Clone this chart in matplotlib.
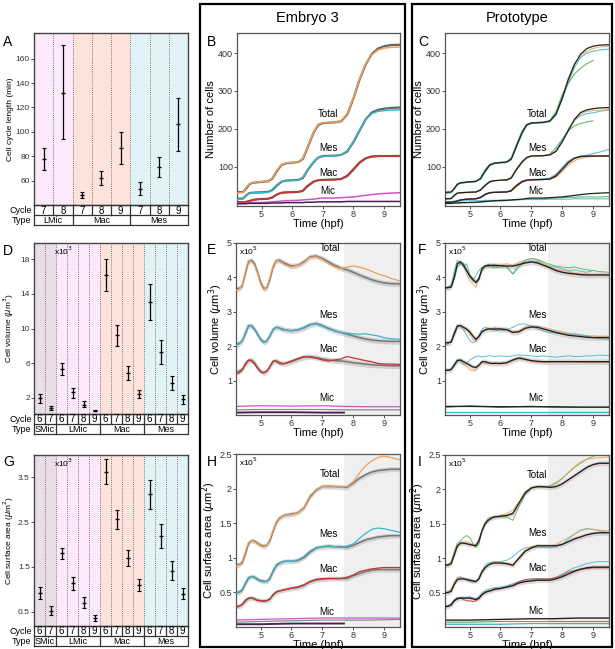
import numpy as np
import matplotlib
matplotlib.use("Agg")
import matplotlib.pyplot as plt
from matplotlib.patches import Rectangle
from matplotlib.ticker import FormatStrFormatter

plt.rcParams["font.family"] = ["Liberation Sans", "DejaVu Sans"]

W, H = 615, 649
nan = np.nan

# ---- left column: per-cycle statistics ----
CYCLE_A = [7, 8, 7, 8, 9, 7, 8, 9]
TYPE_A = ["LMic", "LMic", "Mac", "Mac", "Mac", "Mes", "Mes", "Mes"]
MEAN_A = [78, 132, 48, 62, 87, 53, 71, 106]
LOW_A = [69, 94, 46, 56, 74, 48, 63, 84]
HIGH_A = [87, 171, 51, 68, 100, 59, 79, 128]

CYCLE_DG = [6, 7, 6, 7, 8, 9, 6, 7, 8, 9, 6, 7, 8, 9]
TYPE_DG = ["SMic"] * 2 + ["LMic"] * 4 + ["Mac"] * 4 + ["Mes"] * 4
MEAN_D = [1.9, 0.8, 5.3, 2.6, 1.2, 0.5, 16.2, 9.2, 4.8, 2.4, 13.1, 7.3, 3.7, 1.8]
LOW_D = [1.4, 0.6, 4.6, 2.0, 0.9, 0.4, 14.3, 8.0, 4.0, 1.9, 11.0, 5.9, 2.9, 1.3]
HIGH_D = [2.4, 1.0, 6.0, 3.1, 1.6, 0.6, 18.1, 10.4, 5.7, 2.9, 15.2, 8.7, 4.5, 2.3]
MEAN_G = [0.92, 0.52, 1.80, 1.13, 0.70, 0.36, 3.63, 2.57, 1.70, 1.10, 3.13, 2.20, 1.41, 0.90]
LOW_G = [0.78, 0.42, 1.68, 0.98, 0.58, 0.30, 3.35, 2.35, 1.53, 0.97, 2.80, 1.93, 1.20, 0.78]
HIGH_G = [1.05, 0.62, 1.93, 1.28, 0.82, 0.42, 3.90, 2.78, 1.87, 1.23, 3.45, 2.46, 1.64, 1.03]

TYPE_COLORS = {"SMic": "#e9dde8", "LMic": "#fce9fb", "Mac": "#fde3dc", "Mes": "#e2f3f8"}

# ---- cell numbers (B, C) ----
T_COUNT = [4.2, 4.4, 4.5, 4.6, 4.7, 4.9, 5.2, 5.35, 5.5, 5.65, 5.8, 6.2, 6.35, 6.5,
           6.7, 6.85, 7.0, 7.4, 7.6, 7.8, 8.0, 8.2, 8.4, 8.6, 8.8, 9.0, 9.2, 9.5]
B_TOTAL_MEAN = [32, 33, 42, 53, 57, 59, 61, 68, 88, 104, 109, 112, 120, 150, 190, 210,
                215, 217, 220, 238, 280, 330, 370, 397, 412, 418, 421, 422]
B_TOTAL = [30, 32, 45, 54, 57, 60, 61, 70, 90, 105, 110, 112, 122, 152, 192, 212,
           216, 217, 221, 240, 282, 332, 372, 395, 408, 413, 415, 416]
B_MES_MEAN = [15, 16, 24, 30, 31, 32, 33, 38, 50, 60, 63, 65, 70, 90, 112, 124,
              128, 129, 131, 140, 165, 195, 225, 243, 250, 253, 255, 256]
B_MES = [13, 15, 25, 29, 31, 31, 32, 40, 52, 61, 63, 64, 72, 92, 113, 124,
         127, 129, 131, 142, 167, 196, 224, 240, 246, 248, 249, 250]
B_MAC_MEAN = [6, 6, 7, 9, 12, 14, 15, 18, 26, 31, 32, 33, 36, 48, 60, 64,
              65, 66, 67, 75, 92, 110, 122, 127, 128, 128, 128, 128]
B_MAC = [5, 6, 7, 9, 11, 14, 15, 19, 27, 31, 32, 33, 37, 50, 61, 64,
         65, 66, 68, 77, 94, 112, 122, 126, 127, 128, 128, 129]
B_MIC = [3, 3, 4, 4, 5, 5, 6, 7, 8, 9, 10, 11, 12, 13, 14, 16,
         17, 17, 18, 19, 20, 22, 24, 26, 28, 29, 30, 31]
B_MIC_SMALL = [2, 2, 2, 3, 3, 3, 3, 4, 4, 4, 5, 5, 5, 6, 6, 7,
               7, 7, 7, 8, 8, 8, 8, 8, 8, 8, 8, 8]

C_TOTAL_GREEN = [30, 31, 40, 52, 56, 58, 60, 70, 92, 106, 110, 113, 124, 155, 194, 212,
                 216, 218, 222, 245, 290, 320, 345, 360, 372, 380, nan, nan]
C_TOTAL_CYAN = [28, 32, 44, 55, 58, 60, 62, 66, 85, 102, 108, 111, 118, 147, 186, 208,
                214, 216, 219, 236, 276, 322, 362, 388, 400, 405, 408, 410]
C_TOTAL_ORANGE = [33, 34, 41, 52, 57, 59, 61, 69, 90, 105, 110, 112, 121, 152, 192, 211,
                  216, 217, 221, 242, 285, 335, 372, 393, 405, 412, 416, 418]
C_MES_GREEN = [14, 15, 22, 29, 31, 32, 33, 39, 52, 61, 63, 65, 72, 93, 114, 125,
               128, 129, 133, 150, 172, 195, 208, 214, 218, 221, nan, nan]
C_MES_CYAN = [13, 15, 25, 30, 31, 32, 33, 37, 49, 59, 63, 64, 69, 89, 111, 123,
              127, 129, 131, 142, 170, 200, 222, 235, 240, 242, 246, 250]
C_MAC_CYAN = [6, 6, 8, 11, 13, 14, 15, 20, 28, 32, 33, 34, 38, 50, 62, 65,
              66, 68, 70, 80, 98, 115, 124, 128, 130, 134, 138, 145]
C_MAC_ORANGE = [5, 6, 7, 9, 12, 14, 15, 17, 25, 30, 32, 33, 35, 46, 58, 63,
                65, 66, 66, 72, 86, 104, 116, 122, 125, 127, 128, 128]
C_MIC_GREEN = [2, 2, 3, 3, 4, 5, 5, 6, 7, 8, 9, 10, 11, 12, 13, 14,
               15, 15, 16, 17, 18, 19, 19, 20, 20, 20, 20, 21]
C_MIC_CYAN = [8, 8, 9, 9, 9, 10, 10, 10, 11, 11, 11, 12, 12, 12, 13, 13,
              13, 13, 14, 14, 14, 14, 15, 15, 15, 15, 15, 15]

# ---- volume / surface (E, F, H, I), x10^5 ----
T_SHAPE = [4.2, 4.3, 4.4, 4.5, 4.6, 4.7, 4.8, 4.9, 5.0, 5.1, 5.2, 5.3, 5.4, 5.5, 5.6,
           5.7, 5.8, 6.0, 6.2, 6.4, 6.6, 6.8, 7.0, 7.2, 7.4, 7.6, 7.8, 8.0, 8.2, 8.4,
           8.6, 8.8, 9.0, 9.2, 9.5]
T_MIC = [4.2, 5.0, 6.0, 7.0, 7.7, 8.5, 9.5]

E_TOTAL_MEAN = [3.66, 3.68, 3.75, 4.1, 4.45, 4.5, 4.4, 4.15, 3.85, 3.67, 3.7, 3.95, 4.3, 4.48,
                4.5, 4.45, 4.4, 4.33, 4.35, 4.45, 4.6, 4.62, 4.55, 4.45, 4.35, 4.27, 4.22,
                4.15, 4.07, 4.0, 3.93, 3.88, 3.84, 3.82, 3.81]
E_TOTAL = [3.62, 3.66, 3.78, 4.15, 4.5, 4.47, 4.35, 4.1, 3.8, 3.64, 3.72, 4.0, 4.33, 4.5,
           4.47, 4.42, 4.36, 4.3, 4.36, 4.48, 4.58, 4.6, 4.52, 4.4, 4.3, 4.25, 4.3,
           4.33, 4.3, 4.25, 4.18, 4.1, 4.05, 3.98, 3.9]
E_MES_MEAN = [2.05, 2.08, 2.15, 2.35, 2.58, 2.6, 2.5, 2.35, 2.2, 2.12, 2.15, 2.3, 2.48, 2.55,
              2.53, 2.5, 2.47, 2.45, 2.47, 2.53, 2.62, 2.66, 2.6, 2.52, 2.45, 2.4, 2.35,
              2.3, 2.25, 2.21, 2.18, 2.16, 2.15, 2.14, 2.14]
E_MES = [2.02, 2.06, 2.17, 2.4, 2.62, 2.58, 2.47, 2.32, 2.17, 2.1, 2.16, 2.33, 2.5, 2.55,
         2.52, 2.48, 2.46, 2.45, 2.48, 2.55, 2.64, 2.65, 2.58, 2.5, 2.44, 2.4, 2.38,
         2.36, 2.35, 2.36, 2.33, 2.3, 2.25, 2.22, 2.2]
E_MAC_MEAN = [1.25, 1.27, 1.33, 1.45, 1.58, 1.6, 1.52, 1.38, 1.27, 1.23, 1.27, 1.4, 1.55, 1.58,
              1.53, 1.5, 1.5, 1.55, 1.62, 1.68, 1.7, 1.67, 1.63, 1.6, 1.58, 1.57, 1.55,
              1.52, 1.5, 1.48, 1.46, 1.45, 1.44, 1.43, 1.43]
E_MAC = [1.2, 1.22, 1.3, 1.5, 1.6, 1.57, 1.48, 1.35, 1.25, 1.22, 1.28, 1.42, 1.57, 1.56,
         1.5, 1.48, 1.5, 1.57, 1.64, 1.7, 1.68, 1.65, 1.6, 1.57, 1.6, 1.63, 1.7,
         1.66, 1.62, 1.58, 1.55, 1.5, 1.48, 1.48, 1.47]
E_MIC = [0.25, 0.27, 0.26, 0.27, 0.25, 0.24, 0.24]
E_MIC_MEAN = [0.15, 0.16, 0.16, 0.16, 0.15, 0.15, 0.15]
E_MIC_SMALL = [0.07, 0.08, 0.08, 0.07, 0.07, nan, nan]

H_TOTAL_MEAN = [0.9, 0.9, 0.93, 1.05, 1.2, 1.25, 1.24, 1.21, 1.18, 1.17, 1.18, 1.25, 1.38, 1.5,
                1.57, 1.6, 1.62, 1.63, 1.65, 1.72, 1.88, 1.98, 2.03, 2.03, 2.03, 2.02, 2.02,
                2.08, 2.15, 2.2, 2.24, 2.26, 2.27, 2.28, 2.28]
H_TOTAL = [0.88, 0.9, 0.95, 1.08, 1.22, 1.25, 1.23, 1.2, 1.17, 1.16, 1.18, 1.27, 1.4, 1.52,
           1.58, 1.6, 1.62, 1.62, 1.65, 1.73, 1.9, 1.99, 2.03, 2.04, 2.03, 2.02, 2.03,
           2.1, 2.22, 2.33, 2.4, 2.45, 2.47, 2.45, 2.42]
H_MES_MEAN = [0.5, 0.5, 0.53, 0.62, 0.7, 0.73, 0.72, 0.69, 0.67, 0.66, 0.66, 0.7, 0.8, 0.88,
              0.92, 0.94, 0.95, 0.95, 0.96, 1.0, 1.08, 1.14, 1.16, 1.17, 1.16, 1.16, 1.15,
              1.18, 1.22, 1.26, 1.28, 1.3, 1.31, 1.32, 1.32]
H_MES = [0.5, 0.51, 0.55, 0.64, 0.72, 0.73, 0.71, 0.68, 0.66, 0.65, 0.66, 0.72, 0.82, 0.9,
         0.93, 0.94, 0.95, 0.95, 0.97, 1.02, 1.1, 1.15, 1.16, 1.16, 1.16, 1.15, 1.17,
         1.2, 1.28, 1.35, 1.41, 1.43, 1.42, 1.4, 1.37]
H_MAC_MEAN = [0.3, 0.3, 0.32, 0.37, 0.41, 0.42, 0.41, 0.39, 0.38, 0.38, 0.38, 0.4, 0.46, 0.5,
              0.52, 0.53, 0.54, 0.56, 0.57, 0.6, 0.65, 0.68, 0.69, 0.7, 0.7, 0.7, 0.7,
              0.74, 0.77, 0.8, 0.82, 0.83, 0.83, 0.83, 0.83]
H_MAC = [0.28, 0.3, 0.33, 0.39, 0.42, 0.42, 0.4, 0.38, 0.38, 0.37, 0.38, 0.41, 0.47, 0.51,
         0.52, 0.53, 0.54, 0.56, 0.58, 0.61, 0.66, 0.69, 0.7, 0.7, 0.7, 0.7, 0.72,
         0.75, 0.8, 0.82, 0.84, 0.85, 0.86, 0.86, 0.86]
H_MIC = [0.1, 0.11, 0.12, 0.13, 0.13, 0.13, 0.13]
H_MIC_MEAN = [0.07, 0.08, 0.09, 0.1, 0.1, 0.1, 0.11]
H_MIC_SMALL = [0.04, 0.04, 0.05, 0.05, 0.05, nan, nan]

F_TOTAL_MEAN = [3.7, 3.7, 3.72, 4.0, 4.4, 4.45, 4.35, 4.2, 4.05, 3.95, 3.85, 3.95, 4.25, 4.33,
                4.35, 4.35, 4.35, 4.34, 4.33, 4.33, 4.37, 4.42, 4.45, 4.42, 4.35, 4.28, 4.2,
                4.15, 4.12, 4.1, 4.08, 4.07, 4.07, 4.07, 4.07]
F_TOTAL_CYAN = [3.68, 3.7, 3.8, 4.2, 4.5, 4.4, 4.3, 4.4, 4.1, 3.9, 4.05, 4.2, 4.3, 4.3,
                4.38, 4.33, 4.3, 4.36, 4.3, 4.1, 4.4, 4.45, 4.48, 4.46, 4.4, 4.32, 4.3,
                4.25, 4.2, 4.22, 4.18, 4.15, 4.2, nan, nan]
F_TOTAL_ORANGE = [3.72, 3.7, 3.75, 4.05, 4.38, 4.48, 4.3, 4.1, 3.9, 3.82, 3.7, 3.98, 4.3, 4.35,
                  4.3, 4.35, 4.38, 4.35, 4.4, 4.35, 4.45, 4.5, 4.55, 4.5, 4.4, 4.3, 4.25,
                  4.2, 4.18, 4.12, 4.1, 4.1, 4.08, 4.1, 4.08]
F_TOTAL_GREEN = [3.7, 3.72, 3.74, 3.95, 4.3, 4.4, 4.42, 4.25, 4.0, 3.9, 3.88, 4.0, 4.2, 4.3,
                 4.32, 4.3, 4.28, 4.3, 4.32, 4.1, 4.3, 4.5, 4.55, 4.52, 4.45, 4.38, 4.33,
                 4.3, 4.28, 4.3, 4.25, 4.22, 4.2, 4.17, 4.15]
F_MES_MEAN = [2.1, 2.1, 2.12, 2.35, 2.58, 2.6, 2.55, 2.5, 2.42, 2.3, 2.2, 2.28, 2.42, 2.47,
              2.5, 2.5, 2.5, 2.5, 2.48, 2.4, 2.42, 2.52, 2.56, 2.55, 2.5, 2.45, 2.4,
              2.36, 2.32, 2.3, 2.28, 2.26, 2.25, 2.25, 2.25]
F_MES_ORANGE = [2.08, 2.1, 2.15, 2.45, 2.62, 2.55, 2.48, 2.45, 2.35, 2.2, 2.12, 2.3, 2.45, 2.5,
                2.52, 2.48, 2.55, 2.5, 2.5, 2.42, 2.45, 2.58, 2.6, 2.58, 2.55, 2.5, 2.45,
                2.42, 2.38, 2.35, 2.32, 2.3, 2.3, 2.28, 2.27]
F_MAC_MEAN = [1.3, 1.3, 1.32, 1.45, 1.58, 1.6, 1.55, 1.5, 1.45, 1.4, 1.38, 1.45, 1.55, 1.55,
              1.52, 1.5, 1.5, 1.5, 1.52, 1.6, 1.66, 1.62, 1.58, 1.56, 1.55, 1.55, 1.55,
              1.55, 1.55, 1.55, 1.55, 1.55, 1.55, 1.55, 1.55]
F_MAC_CYAN = [1.28, 1.3, 1.35, 1.5, 1.62, 1.55, 1.45, 1.5, 1.6, 1.65, 1.7, 1.72, 1.68, 1.7,
              1.72, 1.72, 1.7, 1.72, 1.7, 1.72, 1.75, 1.73, 1.72, 1.7, 1.72, 1.7, 1.68,
              1.7, 1.72, 1.7, 1.7, 1.72, 1.72, 1.74, 1.73]
F_MAC_ORANGE = [1.3, 1.32, 1.34, 1.42, 1.55, 1.58, 1.5, 1.4, 1.32, 1.28, 1.3, 1.45, 1.52, 1.5,
                1.48, 1.5, 1.52, 1.48, 1.5, 1.58, 1.62, 1.6, 1.55, 1.53, 1.52, 1.53, 1.55,
                1.56, 1.55, 1.54, 1.53, 1.52, 1.52, 1.53, 1.53]
F_MIC_MEAN = [0.25, 0.25, 0.24, 0.24, 0.24, 0.23, 0.23]
F_MIC_GREEN = [0.22, 0.27, 0.22, 0.26, 0.22, 0.22, 0.22]
F_MIC_SMALL = [0.1, 0.1, 0.1, 0.1, 0.1, 0.1, 0.1]

I_TOTAL_MEAN = [0.9, 0.9, 0.92, 1.05, 1.18, 1.22, 1.22, 1.21, 1.2, 1.19, 1.18, 1.25, 1.4, 1.5,
                1.55, 1.58, 1.6, 1.61, 1.62, 1.65, 1.8, 1.95, 2.02, 2.04, 2.04, 2.03, 2.04,
                2.08, 2.14, 2.2, 2.26, 2.32, 2.36, 2.38, 2.38]
I_TOTAL_GREEN = [0.9, 0.91, 0.95, 1.1, 1.22, 1.25, 1.3, 1.33, 1.3, 1.22, 1.16, 1.2, 1.42, 1.52,
                 1.58, 1.6, 1.6, 1.6, 1.6, 1.55, 1.75, 1.92, 2.02, 2.04, 2.03, 2.05, 2.1,
                 2.16, 2.24, 2.32, 2.38, 2.44, 2.48, 2.5, 2.52]
I_TOTAL_ORANGE = [0.88, 0.9, 0.93, 1.03, 1.15, 1.2, 1.22, 1.25, 1.22, 1.2, 1.2, 1.28, 1.4, 1.48,
                  1.55, 1.57, 1.6, 1.62, 1.65, 1.7, 1.82, 1.97, 2.03, 2.05, 2.04, 2.03, 2.08,
                  2.15, 2.25, 2.33, 2.4, 2.44, 2.45, 2.46, 2.47]
I_MES_MEAN = [0.5, 0.5, 0.52, 0.62, 0.69, 0.7, 0.7, 0.69, 0.68, 0.67, 0.66, 0.7, 0.8, 0.86,
              0.9, 0.92, 0.93, 0.93, 0.92, 0.9, 1.0, 1.1, 1.15, 1.18, 1.18, 1.18, 1.18,
              1.2, 1.24, 1.28, 1.31, 1.34, 1.36, 1.37, 1.37]
I_MES_ORANGE = [0.5, 0.51, 0.55, 0.66, 0.71, 0.72, 0.7, 0.7, 0.69, 0.68, 0.65, 0.72, 0.82, 0.88,
                0.9, 0.93, 0.95, 0.95, 0.93, 0.88, 1.02, 1.12, 1.17, 1.19, 1.18, 1.18, 1.2,
                1.25, 1.3, 1.35, 1.4, 1.42, 1.42, 1.41, 1.4]
I_MAC_MEAN = [0.3, 0.3, 0.32, 0.38, 0.41, 0.42, 0.42, 0.42, 0.42, 0.41, 0.4, 0.42, 0.47, 0.5,
              0.52, 0.53, 0.55, 0.56, 0.58, 0.6, 0.64, 0.66, 0.67, 0.68, 0.68, 0.68, 0.7,
              0.73, 0.77, 0.81, 0.84, 0.86, 0.87, 0.87, 0.87]
I_MAC_CYAN = [0.3, 0.31, 0.34, 0.4, 0.43, 0.43, 0.42, 0.43, 0.44, 0.42, 0.4, 0.45, 0.5, 0.53,
              0.55, 0.56, 0.57, 0.58, 0.6, 0.63, 0.66, 0.68, 0.69, 0.7, 0.7, 0.7, 0.72,
              0.77, 0.82, 0.86, 0.89, 0.92, 0.94, 0.95, 0.95]
I_MIC_MEAN = [0.1, 0.1, 0.11, 0.12, 0.12, 0.13, 0.13]
I_MIC_GREEN = [0.07, 0.07, 0.08, 0.08, 0.08, 0.08, 0.08]
I_MIC_SMALL = [0.04, 0.04, 0.04, 0.05, 0.05, 0.05, 0.05]

ORANGE = "#f0a05a"
CYAN = "#3db5d0"
RED = "#cc3328"
MAGENTA = "#cc55cc"
DARK = "#4a1d55"
GREEN = "#4caf50"
BLACK = "#222222"
TICK_FS = 6.5
LABEL_FS = 8
LEFT_X0 = 34


def add_px_axes(fig, x0, y0, x1, y1):
    return fig.add_axes([x0 / W, 1 - y1 / H, (x1 - x0) / W, (y1 - y0) / H])


def type_spans(types):
    spans = []
    start = 0
    for i in range(1, len(types) + 1):
        if i == len(types) or types[i] != types[start]:
            spans.append((types[start], start, i))
            start = i
    return spans


def style_spines(ax, color="#555555", lw=0.9, fs=TICK_FS):
    for s in ax.spines.values():
        s.set_color(color)
        s.set_linewidth(lw)
    ax.tick_params(labelsize=fs, length=2, width=0.6, pad=1, colors="#333333")


def stats_panel(fig, box, cycles, types, mean, low, high, ylim, yticks, ylabel, scale=None,
                label_x=14):
    x0, y0, x1, y1 = box
    ax = add_px_axes(fig, x0, y0, x1, y1)
    n = len(cycles)
    xs = np.arange(n) + 0.5
    for i, t in enumerate(types):
        ax.axvspan(i, i + 1, color=TYPE_COLORS[t], lw=0, zorder=0)
    for i in range(1, n):
        ax.axvline(i, ls=(0, (1, 1.5)), color="#555555", lw=0.6, zorder=1)
    mean = np.array(mean)
    yerr = [mean - np.array(low), np.array(high) - mean]
    ax.errorbar(xs, mean, yerr=yerr, fmt="_", ms=3, color="black", ecolor="black",
                elinewidth=0.9, capsize=1.5, capthick=0.8, zorder=3)
    ax.set_xlim(0, n)
    ax.set_ylim(*ylim)
    ax.set_xticks([])
    ax.set_yticks(yticks)
    ax.yaxis.set_major_formatter(FormatStrFormatter("%g"))
    ax.set_ylabel(ylabel, fontsize=6, labelpad=0)
    # pin the label's right edge at label_x px so it stays inside the figure
    ax.yaxis.set_label_coords((label_x - x0) / (x1 - x0), 0.5)
    style_spines(ax, "#444444", 1.0, fs=6)
    if scale:
        ax.text(0.13, 0.99, scale, transform=ax.transAxes, va="top", ha="left", fontsize=6)

    # Cycle / Type table
    tax = add_px_axes(fig, x0, y1, x1, y1 + 20)
    tax.set_xlim(0, n)
    tax.set_ylim(0, 2)
    tax.axis("off")
    kw = dict(color="#333333", lw=0.9, clip_on=False)
    tax.plot([0, n, n, 0, 0], [0, 0, 2, 2, 0], **kw)
    tax.plot([0, n], [1, 1], **kw)
    for i in range(1, n):
        tax.plot([i, i], [1, 2], **kw)
    for i, c in enumerate(cycles):
        tax.text(i + 0.5, 1.45, str(c), ha="center", va="center", fontsize=7)
    for name, a, b in type_spans(types):
        if a > 0:
            tax.plot([a, a], [0, 1], **kw)
        tax.text((a + b) / 2, 0.45, name, ha="center", va="center", fontsize=6.5)
    tax.text(-0.015, 0.72, "Cycle", transform=tax.transAxes, ha="right", va="center", fontsize=6.5)
    tax.text(-0.015, 0.22, "Type", transform=tax.transAxes, ha="right", va="center", fontsize=6.5)
    return ax


def time_panel(fig, box, ylim, yticks, ylabel, shade_from=None, scale=None):
    ax = add_px_axes(fig, *box)
    ax.set_xlim(4.2, 9.52)
    ax.set_ylim(*ylim)
    ax.set_xticks([5, 6, 7, 8, 9])
    ax.set_yticks(yticks)
    ax.yaxis.set_major_formatter(FormatStrFormatter("%g"))
    ax.set_xlabel("Time (hpf)", fontsize=LABEL_FS, labelpad=0)
    ax.set_ylabel(ylabel, fontsize=LABEL_FS, labelpad=1)
    style_spines(ax)
    if shade_from is not None:
        ax.axvspan(shade_from, 9.6, color="#efefef", lw=0, zorder=0)
    if scale:
        ax.text(0.02, 0.99, scale, transform=ax.transAxes, va="top", ha="left", fontsize=6)
    return ax


def band(ax, t, y, w, color="#b5b5b5"):
    y = np.array(y, dtype=float)
    ax.fill_between(t, y - w, y + w, color=color, alpha=0.55, lw=0, zorder=1)


def group_labels(ax, positions):
    for name, (x, y) in positions.items():
        ax.text(x, y, name, ha="center", va="bottom", fontsize=7, zorder=5)


fig = plt.figure(figsize=(W / 100, H / 100), dpi=100)

# left column
ax_a = stats_panel(fig, (LEFT_X0, 33, 188, 205), CYCLE_A, TYPE_A, MEAN_A, LOW_A, HIGH_A,
                   (40, 181), [60, 80, 100, 120, 140, 160], "Cell cycle length (min)")
ax_d = stats_panel(fig, (LEFT_X0, 243, 188, 414), CYCLE_DG, TYPE_DG, MEAN_D, LOW_D, HIGH_D,
                   (0.1, 19.9), [2, 6, 10, 14, 18], r"Cell volume ($\mu$m$^3$)", r"x10$^3$",
                   label_x=16)
ax_g = stats_panel(fig, (LEFT_X0, 455, 188, 626), CYCLE_DG, TYPE_DG, MEAN_G, LOW_G, HIGH_G,
                   (0.18, 4.0), [0.5, 1.5, 2.5, 3.5], r"Cell surface area ($\mu$m$^2$)", r"x10$^3$",
                   label_x=16)

# B: embryo cell numbers
ax_b = time_panel(fig, (237, 33, 400, 206), (-4, 453), [100, 200, 300, 400], "Number of cells")
for mean, line, col in [(B_TOTAL_MEAN, B_TOTAL, ORANGE), (B_MES_MEAN, B_MES, CYAN),
                        (B_MAC_MEAN, B_MAC, RED)]:
    ax_b.plot(T_COUNT, mean, color="#666666", lw=1.6, zorder=2)
    ax_b.plot(T_COUNT, line, color=col, lw=1.1, zorder=3)
ax_b.plot(T_COUNT, B_MIC, color=MAGENTA, lw=1.1, zorder=2)
ax_b.plot(T_COUNT, B_MIC_SMALL, color=DARK, lw=1.1, zorder=2)
group_labels(ax_b, {"Total": (7.18, 226), "Mes": (7.18, 135), "Mac": (7.18, 70), "Mic": (7.15, 22)})

# C: prototype cell numbers
ax_c = time_panel(fig, (445, 33, 609, 206), (-4, 453), [100, 200, 300, 400], "Number of cells")
for t_line, col in [(C_TOTAL_ORANGE, ORANGE), (C_TOTAL_GREEN, GREEN), (C_TOTAL_CYAN, CYAN),
                    (C_MES_GREEN, GREEN), (C_MES_CYAN, CYAN), (B_MES, ORANGE),
                    (C_MAC_CYAN, CYAN), (C_MAC_ORANGE, ORANGE), (B_MAC, RED),
                    (C_MIC_GREEN, GREEN), (C_MIC_CYAN, CYAN)]:
    ax_c.plot(T_COUNT, t_line, color=col, lw=0.8, alpha=0.85, zorder=2)
for mean in [B_TOTAL_MEAN, B_MES_MEAN, B_MAC_MEAN, B_MIC]:
    ax_c.plot(T_COUNT, mean, color=BLACK, lw=0.9, zorder=3)
group_labels(ax_c, {"Total": (7.2, 226), "Mes": (7.2, 135), "Mac": (7.2, 70), "Mic": (7.15, 22)})

# E: embryo cell volume
ax_e = time_panel(fig, (236, 243, 400, 415), (0, 5), [1, 2, 3, 4, 5], r"Cell volume ($\mu$m$^3$)",
                  shade_from=7.7, scale=r"x10$^5$")
for mean, line, col in [(E_TOTAL_MEAN, E_TOTAL, ORANGE), (E_MES_MEAN, E_MES, CYAN),
                        (E_MAC_MEAN, E_MAC, RED)]:
    band(ax_e, T_SHAPE, mean, 0.08)
    ax_e.plot(T_SHAPE, mean, color="#777777", lw=1.1, zorder=2)
    ax_e.plot(T_SHAPE, line, color=col, lw=0.9, zorder=3)
ax_e.plot(T_MIC, E_MIC, color=MAGENTA, lw=0.9)
ax_e.plot(T_MIC, E_MIC_MEAN, color="#888888", lw=0.9)
ax_e.plot(T_MIC, E_MIC_SMALL, color=DARK, lw=1.4)
group_labels(ax_e, {"Total": (7.26, 4.72), "Mes": (7.2, 2.76), "Mac": (7.2, 1.77), "Mic": (7.15, 0.36)})

# F: prototype cell volume
ax_f = time_panel(fig, (445, 243, 609, 415), (0, 5), [1, 2, 3, 4, 5], r"Cell volume ($\mu$m$^3$)",
                  shade_from=7.55, scale=r"x10$^5$")
for mean in [F_TOTAL_MEAN, F_MES_MEAN, F_MAC_MEAN]:
    band(ax_f, T_SHAPE, mean, 0.08, "#c9b9b9")
for t_line, col in [(F_TOTAL_CYAN, CYAN), (F_TOTAL_ORANGE, ORANGE), (F_TOTAL_GREEN, GREEN),
                    (F_MES_ORANGE, ORANGE), (E_MES, CYAN), (F_MAC_CYAN, CYAN),
                    (F_MAC_ORANGE, ORANGE)]:
    ax_f.plot(T_SHAPE, t_line, color=col, lw=0.7, alpha=0.85, zorder=2)
for mean in [F_TOTAL_MEAN, F_MES_MEAN, F_MAC_MEAN]:
    ax_f.plot(T_SHAPE, mean, color=BLACK, lw=1.0, zorder=3)
ax_f.plot(T_MIC, F_MIC_GREEN, color=GREEN, lw=0.8)
ax_f.plot(T_MIC, F_MIC_MEAN, color=BLACK, lw=1.0)
ax_f.plot(T_MIC, F_MIC_SMALL, color=CYAN, lw=0.9)
group_labels(ax_f, {"Total": (7.2, 4.72), "Mes": (7.2, 2.76), "Mac": (7.2, 1.77), "Mic": (7.15, 0.36)})

# H: embryo cell surface
ax_h = time_panel(fig, (236, 454, 400, 627), (0, 2.5), [0.5, 1, 1.5, 2, 2.5],
                  r"Cell surface area ($\mu$m$^2$)", shade_from=7.7, scale=r"x10$^5$")
for mean, line, col in [(H_TOTAL_MEAN, H_TOTAL, ORANGE), (H_MES_MEAN, H_MES, CYAN),
                        (H_MAC_MEAN, H_MAC, RED)]:
    band(ax_h, T_SHAPE, mean, 0.035)
    ax_h.plot(T_SHAPE, mean, color="#777777", lw=1.1, zorder=2)
    ax_h.plot(T_SHAPE, line, color=col, lw=0.9, zorder=3)
ax_h.plot(T_MIC, H_MIC, color=MAGENTA, lw=0.9)
ax_h.plot(T_MIC, H_MIC_MEAN, color="#888888", lw=0.9)
ax_h.plot(T_MIC, H_MIC_SMALL, color=DARK, lw=1.4)
group_labels(ax_h, {"Total": (7.25, 2.14), "Mes": (7.2, 1.27), "Mac": (7.2, 0.77), "Mic": (7.15, 0.15)})

# I: prototype cell surface
ax_i = time_panel(fig, (445, 455, 609, 627), (0, 2.5), [0.5, 1, 1.5, 2, 2.5],
                  r"Cell surface area ($\mu$m$^2$)", shade_from=7.55, scale=r"x10$^5$")
for mean in [I_TOTAL_MEAN, I_MES_MEAN, I_MAC_MEAN]:
    band(ax_i, T_SHAPE, mean, 0.035, "#c9b9b9")
for t_line, col in [(I_TOTAL_GREEN, GREEN), (I_TOTAL_ORANGE, ORANGE), (H_MES, CYAN),
                    (I_MES_ORANGE, ORANGE), (I_MAC_CYAN, CYAN), (H_MAC, RED)]:
    ax_i.plot(T_SHAPE, t_line, color=col, lw=0.7, alpha=0.85, zorder=2)
for mean in [I_TOTAL_MEAN, I_MES_MEAN, I_MAC_MEAN]:
    ax_i.plot(T_SHAPE, mean, color=BLACK, lw=1.0, zorder=3)
ax_i.plot(T_MIC, I_MIC_MEAN, color=BLACK, lw=1.0)
ax_i.plot(T_MIC, I_MIC_GREEN, color=GREEN, lw=0.8)
ax_i.plot(T_MIC, I_MIC_SMALL, color=CYAN, lw=0.9)
group_labels(ax_i, {"Total": (7.2, 2.14), "Mes": (7.2, 1.29), "Mac": (7.2, 0.79), "Mic": (7.15, 0.16)})

# frames, titles, panel letters
for x0, x1 in [(200, 405), (412, 612)]:
    fig.add_artist(Rectangle((x0 / W, 1 - 647 / H), (x1 - x0) / W, 643 / H,
                             transform=fig.transFigure, fill=False, lw=1.6, ec="black"))
fig.text(307 / W, 1 - 18 / H, "Embryo 3", ha="center", va="center", fontsize=10.5)
fig.text(517 / W, 1 - 18 / H, "Prototype", ha="center", va="center", fontsize=10.5)
for letter, x, y in [("A", 3, 42), ("D", 3, 251), ("G", 3, 462), ("B", 207, 42), ("E", 207, 250),
                     ("H", 207, 462), ("C", 418, 42), ("F", 418, 250), ("I", 418, 462)]:
    fig.text(x / W, 1 - y / H, letter, ha="left", va="center", fontsize=10)

fig.savefig("out.png", dpi=100)
